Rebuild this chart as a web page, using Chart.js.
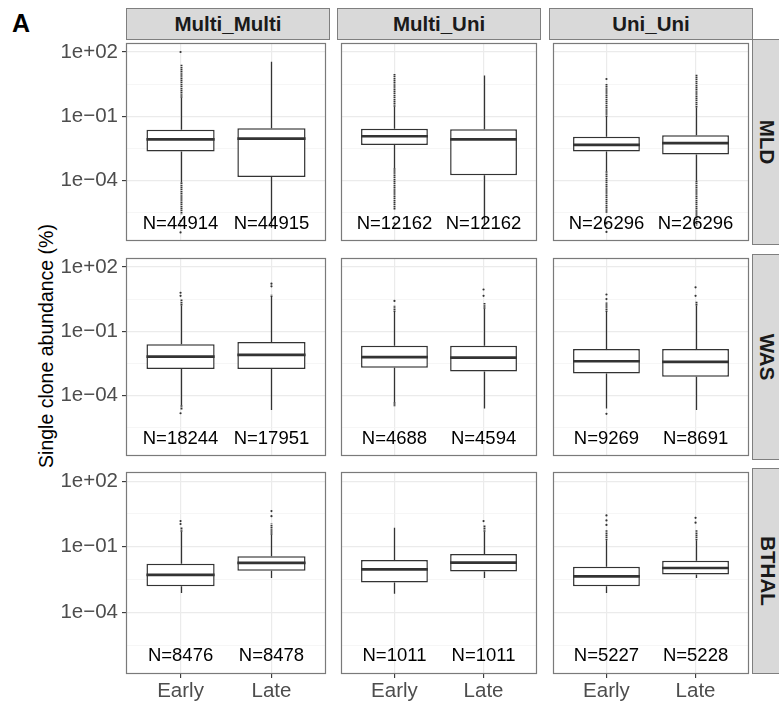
<!DOCTYPE html>
<html>
<head>
<title>Single clone abundance</title>
<script src="https://cdn.jsdelivr.net/npm/chart.js@4.4.1/dist/chart.umd.min.js"></script>
<style>
body { margin:0; width:779px; height:706px; background:#fff; position:relative; overflow:hidden; font-family:"Liberation Sans", Arial, sans-serif; }
canvas { position:absolute; }
.strip { position:absolute; background:#d9d9d9; border:1px solid #7f7f7f; box-sizing:border-box; color:#1a1a1a; font-weight:bold; font-size:20.5px; display:flex; align-items:center; justify-content:center; }
.strip span { white-space:nowrap; }
.side span { transform:rotate(90deg); }
</style>
</head>
<body>
<div style="position:absolute;left:12px;top:11px;font-size:25px;line-height:1;font-weight:bold;">A</div>
<div style="position:absolute;left:46px;top:346px;transform:translate(-50%,-50%) rotate(-90deg);font-size:19.5px;white-space:nowrap;color:#000;">Single clone abundance (%)</div>

<script>
// facets and groups
var rowFacets = ['MLD', 'WAS', 'BTHAL'];
var colFacets = ['Multi_Multi', 'Multi_Uni', 'Uni_Uni'];
var timepoints = ['Early', 'Late'];
var yMajor = [1e2, 1e-1, 1e-4];
var yLabels = ['1e+02', '1e\u221201', '1e\u221204'];
var countLabelAt = 1e-6;

// one entry per panel (row by row), [Early, Late]
var nCounts = [
  [44914, 44915], [12162, 12162], [26296, 26296],
  [18244, 17951], [4688, 4594], [9269, 8691],
  [8476, 8478], [1011, 1011], [5227, 5228]
];
var q1 = [
  [2.27e-3, 1.45e-4], [4.6e-3, 1.78e-4], [2.3e-3, 1.66e-3],
  [1.74e-3, 1.74e-3], [2.0e-3, 1.32e-3], [1.07e-3, 7.6e-4],
  [1.55e-3, 7.9e-3], [2.3e-3, 7.4e-3], [1.55e-3, 5.4e-3]
];
var median = [
  [8.4e-3, 9.1e-3], [1.17e-2, 8.3e-3], [4.6e-3, 5.6e-3],
  [6.6e-3, 7.9e-3], [6.2e-3, 5.9e-3], [4.0e-3, 3.7e-3],
  [5.2e-3, 1.82e-2], [9.3e-3, 1.9e-2], [4.4e-3, 1.07e-2]
];
var q3 = [
  [2.36e-2, 2.8e-2], [2.6e-2, 2.5e-2], [1.12e-2, 1.32e-2],
  [2.5e-2, 3.2e-2], [2.1e-2, 2.1e-2], [1.48e-2, 1.48e-2],
  [1.66e-2, 3.7e-2], [2.5e-2, 4.7e-2], [1.23e-2, 2.3e-2]
];
var whiskerLow = [
  [8.1e-5, 6.3e-7], [3.8e-4, 7.9e-7], [2.7e-4, 9.8e-5],
  [3.5e-5, 2.1e-5], [4.9e-5, 2.5e-5], [2.5e-5, 2.1e-5],
  [7.6e-4, 3.7e-3], [7.1e-4, 3.7e-3], [7.6e-4, 3.7e-3]
];
var whiskerHigh = [
  [0.73, 35], [0.28, 8.1], [9.3e-2, 0.26],
  [1.6, 4.0], [0.79, 1.12], [0.79, 1.6],
  [0.49, 0.35], [0.74, 0.49], [0.2, 0.2]
];
// far end of the packed outlier runs beyond each whisker (null = none)
var outlierHigh = [
  [27, null], [9.5, null], [3.2, 8.7],
  [3.2, 5.2], [1.6, 2.2], [2.2, 2.6],
  [0.8, 1.15], [null, 1.0], [0.57, 0.57]
];
var outlierLow = [
  [2.7e-6, null], [4.4e-6, null], [3.1e-6, 7.9e-7],
  [2.1e-5, null], [3.0e-5, null], [null, null],
  [null, null], [null, null], [null, null]
];
// single outliers: [panel, group, value]
var sparseOutliers = [
  [0, 0, 100], [0, 0, 1.3e-6], [0, 0, 8e-7], [0, 0, 3.8e-7],
  [1, 0, 1e-6],
  [2, 0, 5.5], [2, 0, 1e-6], [2, 0, 4e-7],
  [3, 0, 6.3], [3, 0, 4.5], [3, 0, 1.5e-5], [3, 1, 12.6], [3, 1, 16.6],
  [4, 0, 2.6], [4, 1, 4.5], [4, 1, 8.9],
  [5, 0, 3.2], [5, 0, 5.2], [5, 0, 1.4e-5], [5, 1, 4.5], [5, 1, 11.2],
  [6, 0, 1.1], [6, 0, 1.5], [6, 1, 2.5], [6, 1, 4.3],
  [7, 1, 1.5],
  [8, 0, 1.0], [8, 0, 1.6], [8, 0, 2.7], [8, 1, 1.26], [8, 1, 2.1]
];

// minor grid halfway between majors (in log space)
var yGrid = [];
yMajor.forEach(function (m) { yGrid.push(m, m / Math.pow(10, 1.5)); });

var colX = [126, 337, 549];
var rowY = [39, 254, 468];
var panelW = 204, panelH = 206;
var yAxisW = 70, xAxisH = 33;
var LINE = '#333333';

Chart.defaults.font.family = '"Liberation Sans", Arial, sans-serif';

function isMajor(v) {
  return yMajor.findIndex(function (m) { return Math.abs(Math.log10(m) - Math.log10(v)) < 1e-6; });
}

// whiskers, outlier runs, medians, counts and the panel frame
function boxParts(p) {
  return {
    id: 'boxParts',
    beforeDatasetsDraw: function (chart) {
      var ctx = chart.ctx, x = chart.scales.x, y = chart.scales.y;
      ctx.save();
      ctx.strokeStyle = LINE;
      timepoints.forEach(function (t, i) {
        var px = Math.round(x.getPixelForValue(i + 1)) + 0.5;
        ctx.lineWidth = 1.3;
        ctx.setLineDash([]);
        ctx.beginPath();
        ctx.moveTo(px, y.getPixelForValue(q3[p][i]));
        ctx.lineTo(px, y.getPixelForValue(whiskerHigh[p][i]));
        ctx.moveTo(px, y.getPixelForValue(q1[p][i]));
        ctx.lineTo(px, y.getPixelForValue(whiskerLow[p][i]));
        ctx.stroke();
        ctx.lineWidth = 1.9;
        ctx.setLineDash([1.5, 0.6]);
        ctx.beginPath();
        if (outlierHigh[p][i] !== null) {
          ctx.moveTo(px, y.getPixelForValue(whiskerHigh[p][i]));
          ctx.lineTo(px, y.getPixelForValue(outlierHigh[p][i]));
        }
        if (outlierLow[p][i] !== null) {
          ctx.moveTo(px, y.getPixelForValue(whiskerLow[p][i]));
          ctx.lineTo(px, y.getPixelForValue(outlierLow[p][i]));
        }
        ctx.stroke();
      });
      ctx.restore();
    },
    afterDatasetsDraw: function (chart) {
      var ctx = chart.ctx, x = chart.scales.x, y = chart.scales.y;
      var bars = chart.getDatasetMeta(0).data;
      ctx.save();
      ctx.strokeStyle = LINE;
      ctx.lineWidth = 2.7;
      bars.forEach(function (bar, i) {
        var py = y.getPixelForValue(median[p][i]);
        ctx.beginPath();
        ctx.moveTo(bar.x - bar.width / 2, py);
        ctx.lineTo(bar.x + bar.width / 2, py);
        ctx.stroke();
      });
      ctx.fillStyle = '#000';
      ctx.font = '18.5px "Liberation Sans", Arial, sans-serif';
      ctx.textAlign = 'center';
      ctx.textBaseline = 'middle';
      timepoints.forEach(function (t, i) {
        ctx.fillText('N=' + nCounts[p][i], x.getPixelForValue(i + 1), y.getPixelForValue(countLabelAt));
      });
      var a = chart.chartArea;
      ctx.strokeStyle = '#7a7a7a';
      ctx.lineWidth = 1.2;
      ctx.strokeRect(a.left + 0.5, a.top + 0.5, a.right - a.left - 1, a.bottom - a.top - 1);
      ctx.restore();
    }
  };
}

// strips along the top and the right
colFacets.forEach(function (name, c) {
  var d = document.createElement('div');
  d.className = 'strip';
  d.style.left = colX[c] + 'px';
  d.style.top = '8px';
  d.style.width = panelW + 'px';
  d.style.height = '32px';
  d.innerHTML = '<span>' + name + '</span>';
  document.body.appendChild(d);
});
rowFacets.forEach(function (name, r) {
  var d = document.createElement('div');
  d.className = 'strip side';
  d.style.left = (colX[2] + panelW - 1) + 'px';
  d.style.top = rowY[r] + 'px';
  d.style.width = '31px';
  d.style.height = panelH + 'px';
  d.innerHTML = '<span>' + name + '</span>';
  document.body.appendChild(d);
});

rowFacets.forEach(function (rowName, r) {
  colFacets.forEach(function (colName, c) {
    var p = r * 3 + c;
    var left = c === 0, bottom = r === 2;
    var cv = document.createElement('canvas');
    cv.width = panelW + (left ? yAxisW : 0);
    cv.height = panelH + (bottom ? xAxisH : 0);
    cv.style.left = (colX[c] - (left ? yAxisW : 0)) + 'px';
    cv.style.top = rowY[r] + 'px';
    document.body.appendChild(cv);

    new Chart(cv, {
      type: 'bar',
      data: {
        datasets: [{
          type: 'bar',
          data: timepoints.map(function (t, i) { return { x: i + 1, y: [q1[p][i], q3[p][i]] }; }),
          backgroundColor: '#ffffff',
          borderColor: LINE,
          borderWidth: 1.5,
          borderSkipped: false,
          barPercentage: 0.75,
          categoryPercentage: 1
        }, {
          type: 'scatter',
          data: sparseOutliers.filter(function (o) { return o[0] === p; })
            .map(function (o) { return { x: o[1] + 1, y: o[2] }; }),
          pointRadius: 1.1,
          pointBorderWidth: 0,
          pointBackgroundColor: LINE
        }]
      },
      options: {
        responsive: false,
        animation: false,
        layout: { padding: 0 },
        plugins: { legend: { display: false }, tooltip: { enabled: false } },
        scales: {
          x: {
            type: 'linear', min: 0.4, max: 2.6, offset: false,
            border: { display: false },
            grid: { color: '#ebebeb', lineWidth: 1.2, offset: false, drawTicks: bottom, tickLength: 4, tickColor: LINE, tickWidth: 1.1 },
            ticks: {
              display: bottom, autoSkip: false, maxRotation: 0, padding: 1,
              color: '#4d4d4d', font: { size: 20.5 },
              callback: function (v) { return timepoints[v - 1]; }
            },
            afterBuildTicks: function (s) { s.ticks = timepoints.map(function (t, i) { return { value: i + 1 }; }); },
            afterFit: function (s) { s.height = bottom ? xAxisH : 0; s.paddingLeft = 0; s.paddingRight = 0; }
          },
          y: {
            type: 'logarithmic', min: Math.pow(10, -6.82), max: Math.pow(10, 2.42), beginAtZero: false,
            border: { display: false },
            grid: {
              color: function (ctx) { return isMajor(ctx.tick.value) >= 0 ? '#ebebeb' : '#f2f2f2'; },
              lineWidth: function (ctx) { return isMajor(ctx.tick.value) >= 0 ? 1.2 : 0.7; },
              drawTicks: left, tickLength: 4, tickWidth: 1.1,
              tickColor: function (ctx) { return isMajor(ctx.tick.value) >= 0 ? LINE : 'rgba(0,0,0,0)'; }
            },
            ticks: {
              display: left, autoSkip: false, padding: 4,
              color: '#4d4d4d', font: { size: 20.5 },
              callback: function (v) { var k = isMajor(v); return k >= 0 ? yLabels[k] : ''; }
            },
            afterBuildTicks: function (s) { s.ticks = yGrid.map(function (v) { return { value: v }; }); },
            afterFit: function (s) { s.width = left ? yAxisW : 0; s.paddingTop = 0; s.paddingBottom = 0; }
          }
        }
      },
      plugins: [boxParts(p)]
    });
  });
});
</script>
</body>
</html>
